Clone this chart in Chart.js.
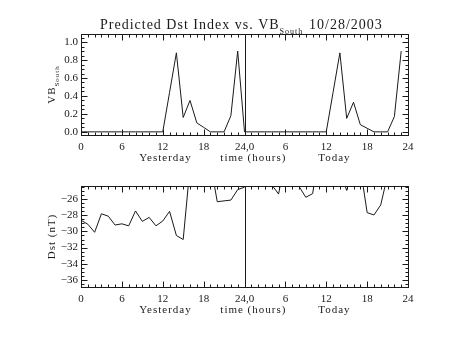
<!DOCTYPE html>
<html>
<head>
<meta charset="utf-8">
<script src="https://cdn.jsdelivr.net/npm/chart.js@4/dist/chart.umd.min.js"></script>
<style>
  html, body { margin: 0; padding: 0; background: #fff; }
  #wrap { position: relative; width: 453px; height: 340px; }
  canvas { position: absolute; left: 0; }
</style>
</head>
<body>
<div id="wrap">
  <canvas id="vbChart" width="453" height="170" style="top:0"></canvas>
  <canvas id="dstChart" width="453" height="170" style="top:170px"></canvas>
</div>
<script>
// hour of the two-day window (0-24 yesterday, 24-47 today)
const hoursYesterday = [0, 1, 2, 3, 4, 5, 6, 7, 8, 9, 10, 11, 12, 13, 14, 15, 16, 17, 18, 19, 20, 21, 22, 23, 24];
const hoursToday = [24, 25, 26, 27, 28, 29, 30, 31, 32, 33, 34, 35, 36, 37, 38, 39, 40, 41, 42, 43, 44, 45, 46, 47];

const vbYesterday = [0, 0, 0, 0, 0, 0, 0, 0, 0, 0, 0, 0, 0, 0.44, 0.88, 0.16, 0.35, 0.10, 0.05, 0, 0, 0, 0.18, 0.90, 0];
const vbToday = [0, 0, 0, 0, 0, 0, 0, 0, 0, 0, 0, 0, 0, 0.44, 0.88, 0.15, 0.33, 0.08, 0.04, 0, 0, 0, 0.17, 0.90];

const dstYesterday = [-28.6, -29.1, -30.1, -27.8, -28.1, -29.2, -29.05, -29.3, -27.45, -28.75, -28.25, -29.3, -28.7,
                      -27.5, -30.5, -31.0, -22, -20, -20, -21.5, -26.3, -26.2, -26.1, -24.8, -24.5];
const dstToday = [-23, -22.5, -22.5, -23, -24.2, -25.35, -21, -22, -24.4, -25.75, -25.3, -20, -22,
                  -23, -22.5, -24.9, -22, -22, -27.65, -27.95, -26.7, -23, -22, -22];

const xTicks = [0, 6, 12, 18, 24, 30, 36, 42, 48];
const xTickLabels = ['0', '6', '12', '18', '24,0', '6', '12', '18', '24'];
const vbTicks = [0, 0.2, 0.4, 0.6, 0.8, 1.0];
const dstTicks = [-36, -34, -32, -30, -28, -26];

const FONT = 'Liberation Serif';
const INK = '#1a1a1a';

function pts(xs, ys) {
    return ys.map((v, i) => ({ x: xs[i], y: v }));
}

// IDL-style box: inward ticks on all four sides, divider at 24 h
function framePlugin(minorY, majorY) {
    return {
        id: 'frame',
        afterDatasetsDraw(chart) {
            const { ctx, chartArea: a, scales: { x, y } } = chart;
            ctx.save();
            ctx.strokeStyle = INK;
            ctx.lineWidth = 1;
            const L = Math.round(a.left) + 0.5, R = Math.round(a.right) + 0.5;
            const T = Math.round(a.top) + 0.5, B = Math.round(a.bottom) + 0.5;
            ctx.strokeRect(L, T, R - L, B - T);
            ctx.beginPath();
            for (let h = 0; h <= 48; h++) {
                const px = Math.round(x.getPixelForValue(h)) + 0.5;
                const len = h % 6 === 0 ? 6 : 3;
                ctx.moveTo(px, B); ctx.lineTo(px, B - len);
                ctx.moveTo(px, T); ctx.lineTo(px, T + len);
            }
            const n = Math.round(majorY / minorY);
            for (let i = Math.ceil(y.min / minorY); i <= Math.floor(y.max / minorY); i++) {
                const py = Math.round(y.getPixelForValue(i * minorY)) + 0.5;
                const len = i % n === 0 ? 6 : 3;
                ctx.moveTo(L, py); ctx.lineTo(L + len, py);
                ctx.moveTo(R, py); ctx.lineTo(R - len, py);
            }
            const mid = Math.round(x.getPixelForValue(24)) + 0.5;
            ctx.moveTo(mid, T); ctx.lineTo(mid, B);
            ctx.stroke();

            ctx.fillStyle = INK;
            ctx.font = '11px "' + FONT + '"';
            ctx.letterSpacing = '1px';
            ctx.textAlign = 'center';
            ctx.textBaseline = 'middle';
            const ly = a.bottom + 23;
            ctx.fillText('Yesterday', x.getPixelForValue(12.4), ly);
            ctx.fillText('time (hours)', x.getPixelForValue(25.3), ly);
            ctx.fillText('Today', x.getPixelForValue(37.2), ly);
            ctx.restore();
        }
    };
}

function yTitlePlugin(main, sub) {
    return {
        id: 'ytitle',
        afterDraw(chart) {
            const { ctx, chartArea: a } = chart;
            ctx.save();
            ctx.fillStyle = INK;
            ctx.letterSpacing = '1px';
            ctx.textBaseline = 'alphabetic';
            ctx.textAlign = 'left';
            ctx.font = '11px "' + FONT + '"';
            const w1 = ctx.measureText(main).width;
            ctx.font = '7px "' + FONT + '"';
            const w2 = sub ? ctx.measureText(sub).width : 0;
            ctx.translate(55, (a.top + a.bottom) / 2);
            ctx.rotate(-Math.PI / 2);
            const x0 = -(w1 + w2) / 2;
            ctx.font = '11px "' + FONT + '"';
            ctx.fillText(main, x0, 0);
            if (sub) {
                ctx.font = '7px "' + FONT + '"';
                ctx.fillText(sub, x0 + w1, 4);
            }
            ctx.restore();
        }
    };
}

const titlePlugin = {
    id: 'maintitle',
    afterDraw(chart) {
        const ctx = chart.ctx;
        ctx.save();
        ctx.fillStyle = INK;
        ctx.letterSpacing = '1px';
        ctx.textAlign = 'left';
        ctx.textBaseline = 'alphabetic';
        ctx.font = '14px "' + FONT + '"';
        const main = 'Predicted Dst Index vs. VB';
        ctx.fillText(main, 100, 29);
        const w = ctx.measureText(main).width;
        ctx.font = '8px "' + FONT + '"';
        ctx.fillText('South', 100 + w, 34);
        ctx.font = '14px "' + FONT + '"';
        ctx.fillText('10/28/2003', 309, 29);
        ctx.restore();
    }
};

function makeChart(id, ySets, yMin, yMax, yTicks, yLabel, plugins) {
    const line = {
        borderColor: INK,
        borderWidth: 1,
        pointRadius: 0,
        fill: false,
        tension: 0
    };
    return new Chart(document.getElementById(id), {
        type: 'line',
        data: {
            datasets: ySets.map(d => Object.assign({ data: d }, line))
        },
        options: {
            responsive: false,
            animation: false,
            devicePixelRatio: 1,
            layout: { padding: { left: 0, right: 45, top: id === 'vbChart' ? 34 : 16, bottom: 0 } },
            plugins: { legend: { display: false }, tooltip: { enabled: false } },
            scales: {
                x: {
                    type: 'linear',
                    min: 0, max: 48,
                    grid: { display: false, drawTicks: false },
                    border: { display: false },
                    afterBuildTicks: s => { s.ticks = xTicks.map(v => ({ value: v })); },
                    afterFit: s => { s.height = id === 'vbChart' ? 35 : 53; },
                    ticks: {
                        padding: 6,
                        maxRotation: 0,
                        autoSkip: false,
                        color: INK,
                        font: { family: FONT, size: 11 },
                        callback: v => xTickLabels[xTicks.indexOf(v)]
                    }
                },
                y: {
                    min: yMin, max: yMax,
                    grid: { display: false, drawTicks: false },
                    border: { display: false },
                    afterBuildTicks: s => { s.ticks = yTicks.map(v => ({ value: v })); },
                    afterFit: s => { s.width = 81; },
                    ticks: {
                        padding: 3,
                        color: INK,
                        font: { family: FONT, size: 11 },
                        callback: yLabel
                    }
                }
            }
        },
        plugins: plugins
    });
}

makeChart('vbChart',
    [pts(hoursYesterday, vbYesterday), pts(hoursToday, vbToday)],
    -0.035, 1.09, vbTicks, v => v.toFixed(1),
    [framePlugin(0.05, 0.2), yTitlePlugin('VB', 'South'), titlePlugin]);

makeChart('dstChart',
    [pts(hoursYesterday, dstYesterday), pts(hoursToday, dstToday)],
    -36.9, -24.35, dstTicks, v => String(v).replace('-', '\u2212'),
    [framePlugin(0.5, 2), yTitlePlugin('Dst (nT)', '')]);
</script>
</body>
</html>
